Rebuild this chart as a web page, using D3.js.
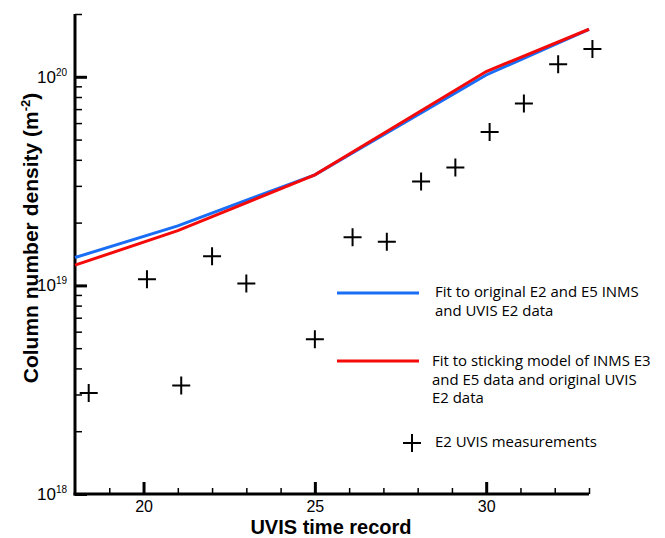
<!DOCTYPE html>
<html>
<head>
<meta charset="utf-8">
<script src="https://cdn.jsdelivr.net/npm/d3@7/dist/d3.min.js"></script>
<style>
  body { margin: 0; background: #fff; }
  svg { display: block; }
</style>
</head>
<body>
<div id="chart"></div>
<script>
// fitted model curves (knots at the record numbers)
const fitX = [18, 21, 25, 30, 33];
const fitOriginal = [1.36e19, 1.93e19, 3.39e19, 1.02e20, 1.69e20];
const fitSticking = [1.25e19, 1.83e19, 3.39e19, 1.06e20, 1.69e20];

// E2 UVIS measurements
const uvisX = [18.4, 20.1, 21.1, 22.0, 23.0, 25.0, 26.1, 27.1, 28.1, 29.1, 30.1, 31.1, 32.1, 33.1];
const uvisY = [3.05e18, 1.07e19, 3.31e18, 1.38e19, 1.02e19, 5.52e18, 1.70e19, 1.62e19,
               3.15e19, 3.67e19, 5.43e19, 7.45e19, 1.15e20, 1.36e20];

const xMajor = [20, 25, 30];
const yMajorExp = [18, 19, 20];

const legendOriginal = ["Fit to original E2 and E5 INMS", "and UVIS E2 data"];
const legendSticking = ["Fit to sticking model of INMS E3", "and E5 data and original UVIS", "E2 data"];
const legendUvis = "E2 UVIS measurements";

const W = 665, H = 538;
const margin = { left: 75, top: 14, right: 76, bottom: 44 };
const width = W - margin.left - margin.right;
const height = H - margin.top - margin.bottom;

const svg = d3.select("#chart").append("svg")
  .attr("width", W).attr("height", H);
const g = svg.append("g")
  .attr("transform", `translate(${margin.left},${margin.top})`);

const x = d3.scaleLinear().domain([18, 33]).range([0, width]);
const y = d3.scaleLog().domain([1e18, 2e20]).range([height, 0]);

const tickFont = "'Liberation Sans', Arial, Helvetica, sans-serif";
const legendFont = "'Open Sans', 'Noto Sans', sans-serif";

// minor ticks
const xMinor = d3.range(19, 34).filter(v => xMajor.indexOf(v) < 0);
const yMinor = [];
[1e18, 1e19].forEach(dec => { for (let k = 2; k <= 9; k++) yMinor.push(k * dec); });
yMinor.push(2e20);

// x axis
const xMinorAxis = g.append("g")
  .attr("transform", `translate(0,${height})`)
  .call(d3.axisBottom(x).tickValues(xMinor).tickSize(-6).tickFormat(""));
const xMajorAxis = g.append("g")
  .attr("transform", `translate(0,${height})`)
  .call(d3.axisBottom(x).tickValues(xMajor).tickSize(-12).tickPadding(7).tickFormat(d3.format("d")));
xMinorAxis.selectAll(".tick line").attr("stroke", "#000").attr("stroke-width", 1.5);
xMajorAxis.selectAll(".tick line").attr("stroke", "#000").attr("stroke-width", 3);
xMajorAxis.selectAll(".tick text")
  .attr("font-family", tickFont).style("font-size", "16px").attr("fill", "#000");
[xMinorAxis, xMajorAxis].forEach(a => a.select(".domain").remove());

// y axis
const yMinorAxis = g.append("g")
  .call(d3.axisLeft(y).tickValues(yMinor).tickSize(-7).tickFormat(""));
const yMajorAxis = g.append("g")
  .call(d3.axisLeft(y).tickValues(yMajorExp.map(e => Math.pow(10, e))).tickSize(-12).tickFormat(""));
yMinorAxis.selectAll(".tick line").attr("stroke", "#000").attr("stroke-width", 1.5);
yMajorAxis.selectAll(".tick line").attr("stroke", "#000").attr("stroke-width", 3);
[yMinorAxis, yMajorAxis].forEach(a => a.select(".domain").remove());

// y labels 10^n
yMajorExp.forEach(e => {
  const t = g.append("text")
    .attr("x", -8).attr("y", y(Math.pow(10, e)) + 6)
    .attr("text-anchor", "end")
    .attr("font-family", tickFont).style("font-size", "17px").attr("fill", "#000");
  t.append("tspan").text("10");
  t.append("tspan").attr("dy", -7).style("font-size", "10px").text(e);
});

// axis lines
g.append("line").attr("x1", 0).attr("x2", 0).attr("y1", 0).attr("y2", height + 1.5)
  .attr("stroke", "#000").attr("stroke-width", 3);
g.append("line").attr("x1", -1.5).attr("x2", width).attr("y1", height).attr("y2", height)
  .attr("stroke", "#000").attr("stroke-width", 3);

// axis titles
const yt = svg.append("text")
  .attr("transform", `translate(38,238) rotate(-90)`)
  .attr("text-anchor", "middle")
  .attr("font-family", tickFont).attr("font-weight", "bold").style("font-size", "21px").attr("fill", "#000");
yt.append("tspan").text("Column number density (m");
yt.append("tspan").attr("dy", -8).style("font-size", "13px").text("-2");
yt.append("tspan").attr("dy", 8).text(")");

svg.append("text")
  .attr("x", 331).attr("y", 534)
  .attr("text-anchor", "middle")
  .attr("font-family", tickFont).attr("font-weight", "bold").style("font-size", "20px").attr("fill", "#000")
  .text("UVIS time record");

// fit lines
const line = d3.line().x(d => x(d[0])).y(d => y(d[1]));
const blue = "#1a6ef5", red = "#f50a0a";
g.append("path").datum(fitX.map((v, i) => [v, fitOriginal[i]]))
  .attr("d", line).attr("fill", "none").attr("stroke", blue).attr("stroke-width", 3);
g.append("path").datum(fitX.map((v, i) => [v, fitSticking[i]]))
  .attr("d", line).attr("fill", "none").attr("stroke", red).attr("stroke-width", 3);

// crosses
const arm = 9;
function cross(sel, cx, cy) {
  sel.append("path")
    .attr("d", `M${cx - arm},${cy}H${cx + arm}M${cx},${cy - arm}V${cy + arm}`)
    .attr("stroke", "#000").attr("stroke-width", 2).attr("fill", "none");
}
uvisX.forEach((v, i) => cross(g, x(v), y(uvisY[i])));

// legend
const leg = svg.append("g");
function legendLine(color, ly) {
  leg.append("line").attr("x1", 337).attr("x2", 419).attr("y1", ly).attr("y2", ly)
    .attr("stroke", color).attr("stroke-width", 3);
}
const legendTexts = [];
function legendText(lines, lx, ly) {
  lines.forEach((s, i) => {
    legendTexts.push(leg.append("text").attr("x", lx).attr("y", ly + i * 18.5)
      .attr("font-family", legendFont).style("font-size", "15px").attr("fill", "#000").text(s));
  });
}
legendLine(blue, 293);
legendText(legendOriginal, 435, 297);
legendLine(red, 361);
legendText(legendSticking, 432, 366);
cross(leg, 412, 443);
legendText([legendUvis], 435, 447);

// size the legend font so the first line is as wide as in the original (~204px)
const w0 = legendTexts[0].node().getComputedTextLength();
const fs = Math.max(12, Math.min(17, 15 * 204 / w0));
legendTexts.forEach(t => t.style("font-size", fs + "px"));
</script>
</body>
</html>
